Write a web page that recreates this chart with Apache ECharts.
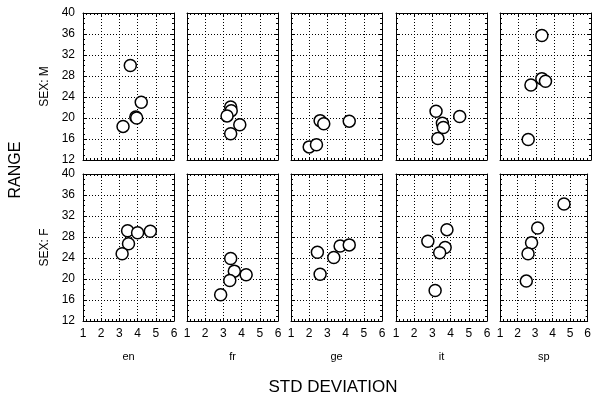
<!DOCTYPE html>
<html>
<head>
<meta charset="utf-8">
<script src="https://cdn.jsdelivr.net/npm/echarts@6/dist/echarts.min.js"></script>
<style>html,body{margin:0;padding:0;background:#fff}#c{width:594px;height:396px}</style>
</head>
<body>
<div id="c"></div>
<script>
const categories = ['en', 'fr', 'ge', 'it', 'sp'];
const sexLabels = ['SEX: M', 'SEX: F'];
const xTicks = [1, 2, 3, 4, 5, 6];
const yTicks = [12, 16, 20, 24, 28, 32, 36, 40];

const stdM_en = [3.6, 4.2, 3.9, 3.95, 3.2];
const rangeM_en = [30.0, 23.0, 20.2, 20.0, 18.4];
const stdM_fr = [3.4, 3.43, 3.2, 3.9, 3.4];
const rangeM_fr = [22.1, 21.4, 20.4, 18.7, 17.0];
const stdM_ge = [2.0, 2.4, 2.6, 2.8, 4.2];
const rangeM_ge = [14.5, 14.9, 19.5, 18.9, 19.4];
const stdM_it = [3.2, 4.5, 3.55, 3.6, 3.3];
const rangeM_it = [21.3, 20.3, 19.0, 18.2, 16.1];
const stdM_sp = [3.3, 3.3, 3.5, 2.7, 2.55];
const rangeM_sp = [35.7, 27.5, 27.0, 26.3, 15.9];

const stdF_en = [3.45, 4.0, 4.7, 3.5, 3.15];
const rangeF_en = [29.2, 28.8, 29.1, 26.7, 24.8];
const stdF_fr = [3.4, 3.6, 4.25, 3.35, 2.85];
const rangeF_fr = [23.9, 21.5, 20.8, 19.7, 17.0];
const stdF_ge = [2.45, 2.6, 3.35, 3.7, 4.2];
const rangeF_ge = [25.1, 20.9, 24.1, 26.3, 26.5];
const stdF_it = [2.75, 3.8, 3.7, 3.4, 3.15];
const rangeF_it = [27.2, 29.4, 26.0, 25.0, 17.8];
const stdF_sp = [4.65, 3.15, 2.8, 2.6, 2.5];
const rangeF_sp = [34.3, 29.7, 26.9, 24.8, 19.6];

const panels = [
  [[stdM_en, rangeM_en], [stdM_fr, rangeM_fr], [stdM_ge, rangeM_ge], [stdM_it, rangeM_it], [stdM_sp, rangeM_sp]],
  [[stdF_en, rangeF_en], [stdF_fr, rangeF_fr], [stdF_ge, rangeF_ge], [stdF_it, rangeF_it], [stdF_sp, rangeF_sp]]
];

const FONT = '"Liberation Sans", Arial, sans-serif';
const lefts = [83, 187, 291, 396, 500];
const tops = [13, 174];
const W = 91, H = 147;

const grid = [], xAxis = [], yAxis = [], series = [];
const lineStyle = { color: '#000', width: 1 };
const gridLine = { show: true, lineStyle: { color: '#000', width: 1, type: [1, 2] } };

for (let r = 0; r < 2; r++) {
  for (let c = 0; c < 5; c++) {
    const g = grid.length;
    grid.push({ left: lefts[c], top: tops[r], width: W, height: H, show: false });
    const bottomRow = r === 1;
    const firstCol = c === 0;
    const xi = xAxis.length;
    xAxis.push({
      type: 'value', gridIndex: g, position: 'bottom', min: xTicks[0], max: xTicks[xTicks.length - 1], interval: 1,
      axisLine: { show: true, onZero: false, lineStyle },
      axisTick: { show: true, inside: true, length: 3, lineStyle },
      minorTick: { show: true, splitNumber: 5, length: 2, lineStyle },
      splitLine: gridLine,
      axisLabel: { show: bottomRow, color: '#000', fontSize: 12, fontFamily: FONT, margin: 7, showMinLabel: true, showMaxLabel: true },
      name: bottomRow ? categories[c] : '', nameLocation: 'middle', nameGap: 30,
      nameTextStyle: { color: '#000', fontSize: 11, fontFamily: FONT }
    });
    xAxis.push({
      type: 'value', gridIndex: g, position: 'top', min: xTicks[0], max: xTicks[xTicks.length - 1], interval: 1,
      axisLine: { show: true, onZero: false, lineStyle },
      axisTick: { show: true, inside: true, length: 3, lineStyle },
      minorTick: { show: true, splitNumber: 5, length: 2, lineStyle },
      splitLine: { show: false }, axisLabel: { show: false }
    });
    const yi = yAxis.length;
    yAxis.push({
      type: 'value', gridIndex: g, position: 'left', min: yTicks[0], max: yTicks[yTicks.length - 1], interval: 4,
      axisLine: { show: true, onZero: false, lineStyle },
      axisTick: { show: true, inside: true, length: 3, lineStyle },
      minorTick: { show: true, splitNumber: 4, length: 2, lineStyle },
      splitLine: gridLine,
      axisLabel: { show: firstCol, color: '#000', fontSize: 12, fontFamily: FONT, margin: 8, showMinLabel: true, showMaxLabel: true },
      name: firstCol ? sexLabels[r] : '', nameLocation: 'middle', nameGap: 32,
      nameTextStyle: { color: '#000', fontSize: 12, fontFamily: FONT }
    });
    yAxis.push({
      type: 'value', gridIndex: g, position: 'right', min: yTicks[0], max: yTicks[yTicks.length - 1], interval: 4,
      axisLine: { show: true, onZero: false, lineStyle },
      axisTick: { show: true, inside: true, length: 3, lineStyle },
      minorTick: { show: true, splitNumber: 4, length: 2, lineStyle },
      splitLine: { show: false }, axisLabel: { show: false }
    });
    const [xs, ys] = panels[r][c];
    series.push({
      type: 'scatter', xAxisIndex: xi, yAxisIndex: yi,
      data: xs.map((v, i) => [v, ys[i]]),
      symbol: 'circle', symbolSize: 12,
      itemStyle: { color: '#fff', borderColor: '#000', borderWidth: 1.5, opacity: 1 },
      emphasis: { disabled: true }, z: 5
    });
  }
}

const chart = echarts.init(document.getElementById('c'), null, { renderer: 'canvas' });
chart.setOption({
  animation: false,
  backgroundColor: '#fff',
  textStyle: { fontFamily: FONT },
  title: [{
    text: 'STD DEVIATION', left: 328, top: 374, textAlign: 'center',
    textStyle: { fontSize: 17, fontWeight: 'normal', color: '#000', fontFamily: FONT }
  }],
  graphic: [{
    type: 'text', x: 16, y: 170, rotation: Math.PI / 2,
    style: { text: 'RANGE', fill: '#000', font: '16px ' + FONT, align: 'center', verticalAlign: 'middle' }
  }],
  grid, xAxis, yAxis, series
});
</script>
</body>
</html>
